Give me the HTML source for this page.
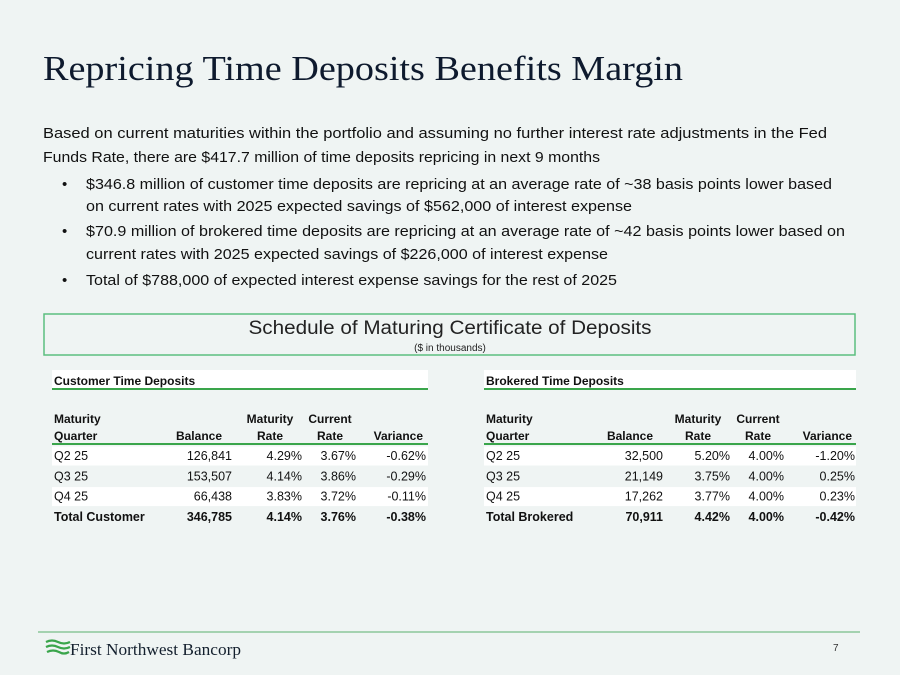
<!DOCTYPE html>
<html><head><meta charset="utf-8"><style>
html,body{margin:0;padding:0;background:#eff4f3;}
svg{display:block}
text{font-family:"Liberation Sans",sans-serif;fill:#111;}
.serif{font-family:"Liberation Serif",serif;}
.b{font-weight:bold}
</style></head><body>
<svg width="900" height="675" viewBox="0 0 900 675">
<rect width="900" height="675" fill="#eff4f3"/>
<text class="serif" x="43" y="80" font-size="35" style="fill:#0e1a2e" textLength="640" lengthAdjust="spacingAndGlyphs">Repricing Time Deposits Benefits Margin</text>
<g font-size="15">
<text x="43" y="138" textLength="784" lengthAdjust="spacingAndGlyphs">Based on current maturities within the portfolio and assuming no further interest rate adjustments in the Fed</text>
<text x="43" y="162" textLength="557" lengthAdjust="spacingAndGlyphs">Funds Rate, there are $417.7 million of time deposits repricing in next 9 months</text>
</g>
<g font-size="15">
<text x="62" y="189">•</text>
<text x="86" y="189" textLength="746" lengthAdjust="spacingAndGlyphs">$346.8 million of customer time deposits are repricing at an average rate of ~38 basis points lower based</text>
<text x="86" y="211" textLength="546" lengthAdjust="spacingAndGlyphs">on current rates with 2025 expected savings of $562,000 of interest expense</text>
<text x="62" y="236">•</text>
<text x="86" y="236" textLength="759" lengthAdjust="spacingAndGlyphs">$70.9 million of brokered time deposits are repricing at an average rate of ~42 basis points lower based on</text>
<text x="86" y="259" textLength="522" lengthAdjust="spacingAndGlyphs">current rates with 2025 expected savings of $226,000 of interest expense</text>
<text x="62" y="285">•</text>
<text x="86" y="285" textLength="531" lengthAdjust="spacingAndGlyphs">Total of $788,000 of expected interest expense savings for the rest of 2025</text>
</g>
<g>
<rect x="44" y="314" width="811" height="41" fill="none" style="stroke:#5cbf7f" stroke-width="1.5"/>
<text x="450" y="334" font-size="19" text-anchor="middle" textLength="403" lengthAdjust="spacingAndGlyphs" style="fill:#222">Schedule of Maturing Certificate of Deposits</text>
<text x="450" y="351" font-size="10" text-anchor="middle" style="fill:#222">($ in thousands)</text>
</g>
<g id="tables"></g>
<line x1="38" y1="632" x2="860" y2="632" stroke="#8cc79a" stroke-width="1.5"/>
<g>
<path d="M46 642 q6 -3 12 0 q6 3 12 0 M46 647 q6 -3 12 0 q6 3 12 0 M47 652 q6 -3 12 0 q5 3 10 0" stroke="#3aa54b" stroke-width="2.2" fill="none"/>
<text x="70" y="655" class="serif" font-size="17" style="fill:#14202e" textLength="171" lengthAdjust="spacingAndGlyphs">First Northwest Bancorp</text>
</g>
<text x="833" y="651" font-size="10" style="fill:#333">7</text>
</svg>
<script>
const custQuarters = ["Q2 25","Q3 25","Q4 25","Total Customer"];
const custBalance = ["126,841","153,507","66,438","346,785"];
const custMatRate = ["4.29%","4.14%","3.83%","4.14%"];
const custCurRate = ["3.67%","3.86%","3.72%","3.76%"];
const custVariance = ["-0.62%","-0.29%","-0.11%","-0.38%"];
const brokQuarters = ["Q2 25","Q3 25","Q4 25","Total Brokered"];
const brokBalance = ["32,500","21,149","17,262","70,911"];
const brokMatRate = ["5.20%","3.75%","3.77%","4.42%"];
const brokCurRate = ["4.00%","4.00%","4.00%","4.00%"];
const brokVariance = ["-1.20%","0.25%","0.23%","-0.42%"];
const NS="http://www.w3.org/2000/svg";
const root=document.getElementById('tables');
function mk(tag,attrs,parent,txt){const e=document.createElementNS(NS,tag);for(const k in attrs)e.setAttribute(k,attrs[k]);if(txt!==undefined)e.textContent=txt;parent.appendChild(e);return e;}
function table(name,title,x0,x1,cols,q,bal,mr,cr,vr){
  const g=mk('g',{},root);
  
  
  mk('rect',{x:x0,y:370,width:x1-x0,height:19,fill:'#ffffff'},g);
  mk('line',{x1:x0,y1:389,x2:x1,y2:389,stroke:'#3aa54b','stroke-width':2},g);
  mk('text',{x:x0+2,y:385,'font-size':12,'class':'b'},g,title);
  const h=mk('g',{'font-size':12,'class':'b'},g);
  mk('text',{x:x0+2,y:423},h,'Maturity');
  mk('text',{x:x0+2,y:440},h,'Quarter');
  mk('text',{x:cols[0]-10,y:440,'text-anchor':'end'},h,'Balance');
  mk('text',{x:cols[1]-32,y:423,'text-anchor':'middle'},h,'Maturity');
  mk('text',{x:cols[1]-32,y:440,'text-anchor':'middle'},h,'Rate');
  mk('text',{x:cols[2]-26,y:423,'text-anchor':'middle'},h,'Current');
  mk('text',{x:cols[2]-26,y:440,'text-anchor':'middle'},h,'Rate');
  mk('text',{x:cols[3]-3,y:440,'text-anchor':'end'},h,'Variance');
  mk('line',{x1:x0,y1:444,x2:x1,y2:444,stroke:'#3aa54b','stroke-width':2},g);
  for(let i=0;i<q.length;i++){
    const y=456+i*20.3;
    if(i%2===0) mk('rect',{x:x0,y:y-9.5,width:x1-x0,height:19,fill:'#ffffff'},g);
    const r=mk('g',{'font-size':12.5},g);
    
    
    if(i===q.length-1) r.setAttribute('class','b');
    mk('text',{x:x0+2,y:y+4},r,q[i]);
    mk('text',{x:cols[0],y:y+4,'text-anchor':'end'},r,bal[i]);
    mk('text',{x:cols[1],y:y+4,'text-anchor':'end'},r,mr[i]);
    mk('text',{x:cols[2],y:y+4,'text-anchor':'end'},r,cr[i]);
    mk('text',{x:cols[3],y:y+4,'text-anchor':'end'},r,vr[i]);
  }
}
table('customer-time-deposits-table','Customer Time Deposits',52,428,[232,302,356,426],custQuarters,custBalance,custMatRate,custCurRate,custVariance);
table('brokered-time-deposits-table','Brokered Time Deposits',484,856,[663,730,784,855],brokQuarters,brokBalance,brokMatRate,brokCurRate,brokVariance);
</script>
</body></html>
